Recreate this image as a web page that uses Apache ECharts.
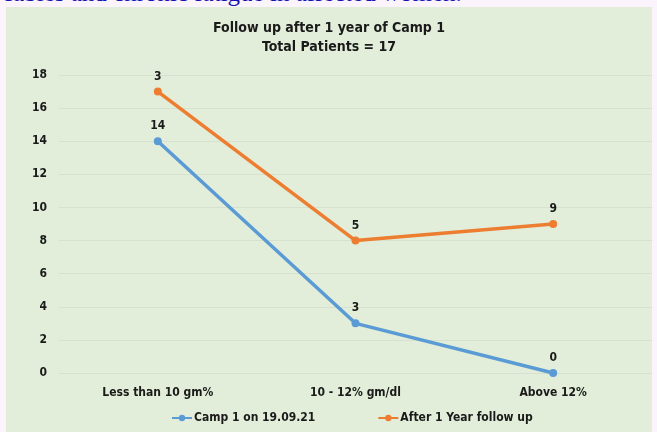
<!DOCTYPE html>
<html>
<head>
<meta charset="utf-8">
<script src="https://cdn.jsdelivr.net/npm/echarts@6/dist/echarts.min.js"></script>
<style>
  html, body { margin: 0; padding: 0; width: 657px; height: 432px; overflow: hidden; background: #fcf4fc; }
  #caption { position: absolute; left: 2px; top: -21px; line-height: 28px; font-family: "Liberation Serif", "DejaVu Serif", serif; font-size: 25px; color: #1414b4; white-space: nowrap; }
  #chart { position: absolute; left: 6px; top: 7px; width: 646px; height: 425px; background: #e2eed9; }
</style>
</head>
<body>
<div id="caption">cables and chronic fatigue in affected women.</div>
<div id="chart"></div>
<script>
// Haemoglobin groups and patient counts
const categories = ['Less than 10 gm%', '10 - 12% gm/dl', 'Above 12%'];
const camp1 = [14, 3, 0];          // Camp 1 on 19.09.21
const followUp = [3, 5, 9];        // After 1 Year follow up (stacked on Camp 1)
const yTicks = [0, 2, 4, 6, 8, 10, 12, 14, 16, 18];

const FONT = '"Liberation Sans Narrow", "DejaVu Sans Condensed", "Open Sans", sans-serif';

const chart = echarts.init(document.getElementById('chart'));
chart.setOption({
  animation: false,
  title: {
    text: 'Follow up after 1 year of Camp 1\nTotal Patients = 17',
    left: 'center',
    top: 7,
    textStyle: { fontFamily: FONT, fontSize: 14, fontWeight: 'bold', color: '#1a1a1a', lineHeight: 19 }
  },
  legend: {
    bottom: 3,
    left: 160,
    itemGap: 62,
    itemWidth: 20,
    itemHeight: 8,
    textStyle: { fontFamily: FONT, fontSize: 12, fontWeight: 'bold', color: '#1a1a1a', padding: [0, 0, 0, -3] },
    data: ['Camp 1 on 19.09.21', 'After 1 Year follow up']
  },
  grid: { left: 53, right: 0, top: 68, height: 298 },
  xAxis: {
    type: 'category',
    data: categories,
    boundaryGap: true,
    axisLine: { show: false },
    axisTick: { show: false },
    axisLabel: { fontFamily: FONT, fontSize: 12, fontWeight: 'bold', color: '#1a1a1a', margin: 14 }
  },
  yAxis: {
    type: 'value',
    min: yTicks[0],
    max: yTicks[yTicks.length - 1],
    interval: 2,
    axisLine: { show: false },
    axisTick: { show: false },
    axisLabel: { fontFamily: FONT, fontSize: 12, fontWeight: 'bold', color: '#1a1a1a', margin: 12 },
    splitLine: { lineStyle: { color: '#d6e1cf', width: 1 } }
  },
  series: [
    {
      name: 'Camp 1 on 19.09.21',
      type: 'line',
      stack: 'total',
      data: camp1,
      symbol: 'circle',
      symbolSize: 8,
      lineStyle: { width: 3.5, color: '#5b9bd5' },
      itemStyle: { color: '#5b9bd5' },
      label: { show: true, position: 'top', distance: 5, fontFamily: FONT, fontSize: 12, fontWeight: 'bold', color: '#1a1a1a' }
    },
    {
      name: 'After 1 Year follow up',
      type: 'line',
      stack: 'total',
      data: followUp,
      symbol: 'circle',
      symbolSize: 8,
      lineStyle: { width: 3.5, color: '#ed7d31' },
      itemStyle: { color: '#ed7d31' },
      label: { show: true, position: 'top', distance: 5, fontFamily: FONT, fontSize: 12, fontWeight: 'bold', color: '#1a1a1a' }
    }
  ]
});
</script>
</body>
</html>
